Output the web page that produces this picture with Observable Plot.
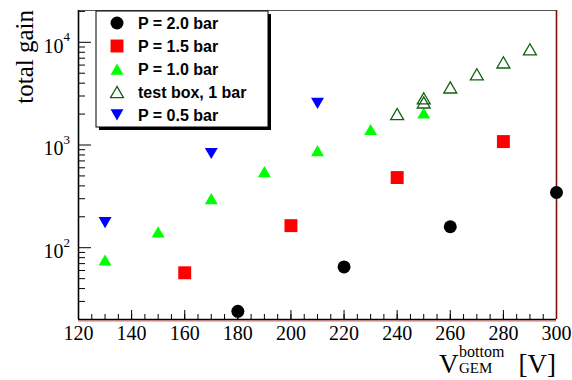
<!DOCTYPE html>
<html><head><meta charset="utf-8">
<script src="https://cdn.jsdelivr.net/npm/d3@7"></script>
<script src="https://cdn.jsdelivr.net/npm/@observablehq/plot@0.6"></script>
<style>body{margin:0;background:#fff}</style>
</head><body><div id="chart"></div>
<script>
// ---- data ----
const voltP20 = [180, 220, 260, 300];
const gainP20 = [24, 65, 160, 345];
const voltP15 = [160, 200, 240, 280];
const gainP15 = [57, 164, 482, 1080];
const voltP10 = [130, 150, 170, 190, 210, 230, 250];
const gainP10 = [76, 143, 301, 550, 884, 1416, 2050];
const voltTest = [240, 250, 250, 260, 270, 280, 290];
const gainTest = [2000, 2850, 2600, 3640, 4880, 6380, 8550];
const voltP05 = [130, 170, 210];
const gainP05 = [175, 826, 2540];

const xMajor = [120, 140, 160, 180, 200, 220, 240, 260, 280, 300];
const xMinor = d3.range(120, 301, 5);
const yDecades = [100, 1000, 10000];
const yMinor = [20,30,40,50,60,70,80,90,200,300,400,500,600,700,800,900,2000,3000,4000,5000,6000,7000,8000,9000,20000];
const legendLabels = ["P = 2.0 bar", "P = 1.5 bar", "P = 1.0 bar", "test box, 1 bar", "P = 0.5 bar"];

const zip = (xs, ys) => xs.map((x, i) => ({x, y: ys[i]}));
const W = 572, H = 380, mL = 78, mR = 16, mT = 10, mB = 61;
const frameH = H - mT - mB, frameW = W - mL - mR;
const serif = "'Liberation Serif', 'Times New Roman', serif";
const sans = "'Liberation Sans', Arial, sans-serif";

const series = [
  {data: zip(voltP20, gainP20), symbol: "circle", r: 6.5, fill: "#000", stroke: "none", rotate: 0, dy: 0},
  {data: zip(voltP15, gainP15), symbol: "square", r: 7.3, fill: "#ff0000", stroke: "none", rotate: 0, dy: 0},
  {data: zip(voltP10, gainP10), symbol: "triangle", r: 4.8, fill: "#00ff00", stroke: "none", rotate: 0, dy: 1.9},
  {data: zip(voltTest, gainTest), symbol: "triangle", r: 4.8, fill: "none", stroke: "#106010", rotate: 0, dy: 1.9},
  {data: zip(voltP05, gainP05), symbol: "triangle", r: 4.8, fill: "#0000ff", stroke: "none", rotate: 180, dy: -1.9}
];

const chart = Plot.plot({
  width: W, height: H,
  marginLeft: mL, marginRight: mR, marginTop: mT, marginBottom: mB,
  style: {fontFamily: serif, background: "#fff"},
  x: {domain: [120, 300], axis: null},
  y: {type: "log", domain: [20, 20400], axis: null},
  marks: [
    // ticks
    Plot.tickX(xMinor, {x: d => d, insetTop: frameH - 5, stroke: "#000"}),
    Plot.tickX(xMajor, {x: d => d, insetTop: frameH - 9, stroke: "#000"}),
    Plot.tickY(yMinor, {y: d => d, insetRight: frameW - 7, stroke: "#000"}),
    Plot.tickY(yDecades, {y: d => d, insetRight: frameW - 13, stroke: "#000"}),
    // frame
    Plot.ruleY([20400], {stroke: "#555", strokeWidth: 1}),
    Plot.ruleX([300], {stroke: "#7a1010", strokeWidth: 1.6}),
    Plot.ruleY([20], {stroke: "#ff6060", strokeWidth: 1, dy: 1.5}),
    Plot.ruleY([20], {stroke: "#000", strokeWidth: 1.6}),
    Plot.ruleX([120], {stroke: "#000", strokeWidth: 1.6}),
    // tick labels
    Plot.text(xMajor, {x: d => d, frameAnchor: "bottom", text: d => String(d), dy: 6, lineAnchor: "top", fontSize: 20, fill: "#000"}),
    Plot.text(yDecades, {y: d => d, frameAnchor: "left", text: () => "10", textAnchor: "end", dx: -15, dy: 4, fontSize: 20, fill: "#000"}),
    Plot.text(yDecades, {y: d => d, frameAnchor: "left", text: d => String(Math.round(Math.log10(d))), textAnchor: "start", dx: -15, dy: -5, fontSize: 13, fill: "#000"}),
    // data
    ...series.map(s => Plot.dot(s.data, {x: "x", y: "y", symbol: s.symbol, r: s.r, fill: s.fill, stroke: s.stroke, strokeWidth: 1.3, rotate: s.rotate, dy: s.dy}))
  ]
});

document.getElementById("chart").appendChild(chart);
const svg = d3.select(chart);
svg.selectAll("text").style("font-family", serif);

const addText = (g, x, y, size, str, anchor = "start", family = serif, weight = "normal") =>
  g.append("text").attr("x", x).attr("y", y)
    .style("font-family", family).style("font-size", size + "px").style("font-weight", weight)
    .style("text-anchor", anchor).attr("fill", "#000").text(str);

// axis titles
svg.append("text").attr("transform", "translate(33,10) rotate(-90)")
  .style("text-anchor", "end").style("font-family", serif).style("font-size", "25px").attr("fill", "#000").text("total gain");
const xt = svg.append("g");
addText(xt, 439, 373, 27, "V");
addText(xt, 459, 357, 16, "bottom");
addText(xt, 459, 373, 15, "GEM");
addText(xt, 556, 373, 27, "[V]", "end");

// legend
const lg = svg.append("g").attr("transform", "translate(96,11)");
lg.append("rect").attr("x", 3).attr("y", 3).attr("width", 172).attr("height", 116).attr("fill", "#000");
lg.append("rect").attr("x", 0).attr("y", 0).attr("width", 172).attr("height", 116).attr("fill", "#fff").attr("stroke", "#000").attr("stroke-width", 1);
const symMap = {circle: d3.symbolCircle, square: d3.symbolSquare, triangle: d3.symbolTriangle};
series.forEach((s, i) => {
  const cy = 12 + i * 23;
  lg.append("path")
    .attr("d", d3.symbol(symMap[s.symbol], Math.PI * s.r * s.r)())
    .attr("transform", `translate(21,${cy + s.dy}) rotate(${s.rotate})`)
    .attr("fill", s.fill).attr("stroke", s.stroke).attr("stroke-width", 1.3);
  addText(lg, 42, cy + 6, 16, legendLabels[i], "start", sans, "bold");
});
</script></body></html>
